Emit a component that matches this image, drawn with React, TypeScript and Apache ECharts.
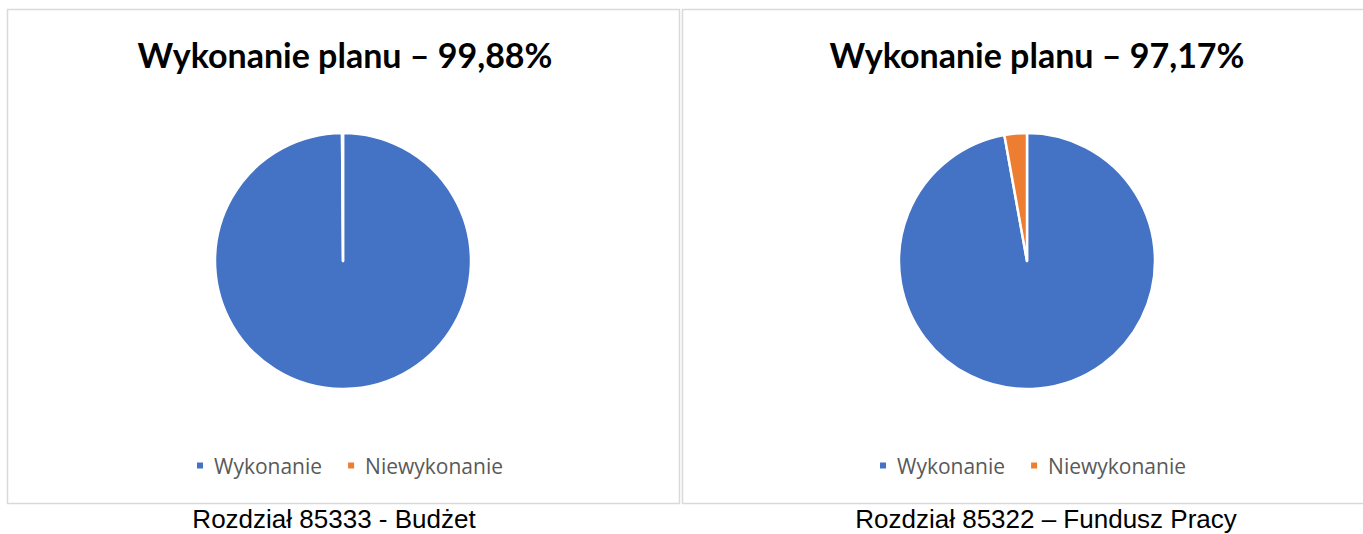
import React, { useEffect, useRef } from "react";
import * as echarts from "echarts";

const categories = ["Wykonanie", "Niewykonanie"];
const budzetValues = [99.88, 0.12];
const funduszValues = [97.17, 2.83];
const titles = ["Wykonanie planu – 99,88%", "Wykonanie planu – 97,17%"];
const captions = ["Rozdział 85333 - Budżet", "Rozdział 85322 – Fundusz Pracy"];
const colors = ["#4472C4", "#ED7D31"];

export default function App() {
  const ref = useRef<HTMLDivElement>(null);
  useEffect(() => {
    if (!ref.current) return;
    const chart = echarts.init(ref.current, undefined, { renderer: "svg" });
    const titleStyle = {
      fontFamily: "Lato",
      fontWeight: "bold" as const,
      fontSize: 34,
      color: "#000000",
    };
    const legendCommon = {
      data: categories,
      icon: "rect",
      itemWidth: 8,
      itemHeight: 8,
      itemGap: 24,
      top: 450,
      selectedMode: false,
      textStyle: {
        fontFamily: "Open Sans",
        fontSize: 21,
        color: "#595959",
        padding: [0, 0, 0, 5],
      },
    };
    const pieCommon = {
      type: "pie" as const,
      radius: 128,
      startAngle: 90,
      clockwise: true,
      label: { show: false },
      labelLine: { show: false },
      silent: true,
      itemStyle: { borderColor: "#ffffff", borderWidth: 2.5 },
    };
    chart.setOption({
      animation: false,
      color: colors,
      title: [
        { text: titles[0], left: 340, top: 32, textAlign: "center", textStyle: titleStyle },
        { text: titles[1], left: 1032, top: 32, textAlign: "center", textStyle: titleStyle },
      ],
      legend: [
        { ...legendCommon, left: 190 },
        { ...legendCommon, left: 873 },
      ],
      series: [
        {
          ...pieCommon,
          center: [343, 261],
          data: categories.map((n, i) => ({ name: n, value: budzetValues[i] })),
        },
        {
          ...pieCommon,
          center: [1027, 261],
          data: categories.map((n, i) => ({ name: n, value: funduszValues[i] })),
        },
      ],
      graphic: [
        {
          type: "rect",
          shape: { x: 7.5, y: 9.5, width: 672, height: 494 },
          style: { fill: "none", stroke: "#d9d9d9", lineWidth: 1.5 },
          z: -1,
        },
        {
          type: "rect",
          shape: { x: 682.5, y: 9.5, width: 700, height: 494 },
          style: { fill: "none", stroke: "#d9d9d9", lineWidth: 1.5 },
          z: -1,
        },
        {
          type: "text",
          x: 334,
          y: 519,
          style: {
            text: captions[0],
            fontFamily: "Liberation Sans",
            fontSize: 26,
            fill: "#000000",
            align: "center",
            verticalAlign: "middle",
          },
        },
        {
          type: "text",
          x: 1046,
          y: 519,
          style: {
            text: captions[1],
            fontFamily: "Liberation Sans",
            fontSize: 26,
            fill: "#000000",
            align: "center",
            verticalAlign: "middle",
          },
        },
      ],
    });
    return () => chart.dispose();
  }, []);
  return (
    <div
      ref={ref}
      style={{ position: "fixed", left: 0, top: 0, width: 1363, height: 534, background: "#ffffff" }}
    />
  );
}
